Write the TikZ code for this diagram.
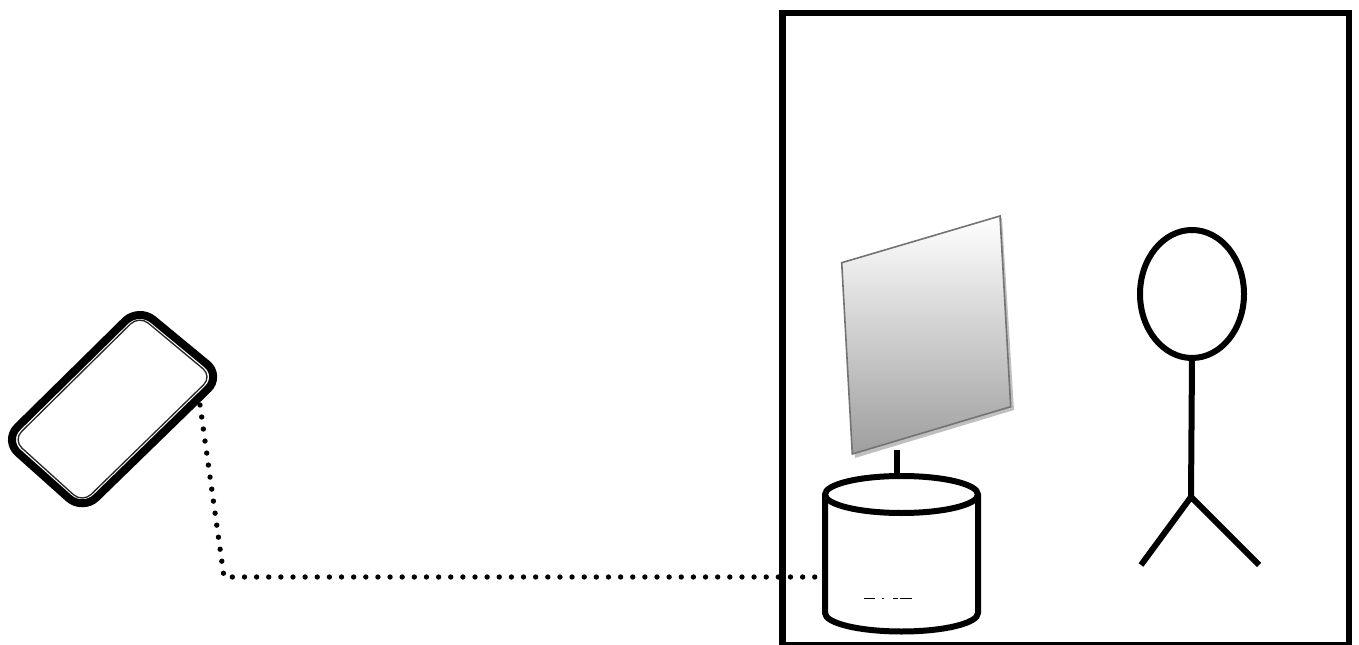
\documentclass[tikz,border=0pt]{standalone}
\usepackage{tikz}
\tikzset{
  x=0.75pt,y=-0.75pt,
  heavy/.style={draw=black,line width=4.5pt,line join=round},
  link/.style={draw=black,line width=4pt,line cap=round,dash pattern=on 0pt off 9.1pt},
  rim/.style={draw=black,line width=6pt,rounded corners=14pt},
  rimin/.style={draw=black!85,line width=1pt,rounded corners=9pt},
}
\begin{document}
\begin{tikzpicture}
\useasboundingbox (0,0) rectangle (1359,645);
% room
\draw[heavy,line width=5pt,line join=miter] (782.5,13) rectangle (1349,645);
% phone
\draw[rim] (138.7,307.7) -- (221.3,375.9) -- (82.8,510.7) -- (4,440.3) -- cycle;
\draw[rimin] (139.1,315.5) -- (212.2,376.4) -- (82.5,502.8) -- (13,440) -- cycle;
% link
\coordinate (phonePort) at (200,405);
\coordinate (linkBend) at (224,577);
\coordinate (cylPort) at (822,577);
\draw[link] (phonePort) -- (linkBend) -- (cylPort);
% mirror
\fill[black!25] (844,265) -- (1002,218) -- (1014,410) -- (855,458) -- cycle;
\shade[top color=white,middle color=black!14,bottom color=black!38] (841.7,262.7) -- (1000,216) -- (1010.7,406.7) -- (852.3,454) -- cycle;
\draw[draw=black!55,line width=1.2pt,line join=miter] (841.7,262.7) -- (1000,216) -- (1010.7,406.7) -- (852.3,454) -- cycle;
% post
\draw[heavy,line width=4.8pt] (897,450) -- (897,477);
% cylinder
\fill[white] (825,494) -- (825,613) arc[start angle=180,end angle=0,x radius=76.5,y radius=18.5] -- (978,494) -- cycle;
\draw[heavy] (825,494) -- (825,613) arc[start angle=180,end angle=0,x radius=76.5,y radius=18.5] -- (978,494);
\draw[heavy,fill=white] (901.5,494.5) ellipse [x radius=76.5,y radius=18.5];
\draw[black,line width=0.9pt] (864,598.3) -- (875,598.3) (882,598.3) -- (884,598.3) (893,598.3) -- (898,598.3) (900,598.3) -- (912,598.3);
% person
\draw[heavy] (1192,294) ellipse [x radius=52,y radius=64];
\draw[heavy] (1192,358) -- (1191,497);
\draw[heavy] (1141,565) -- (1191,497) -- (1259,565);
\end{tikzpicture}
\end{document}
